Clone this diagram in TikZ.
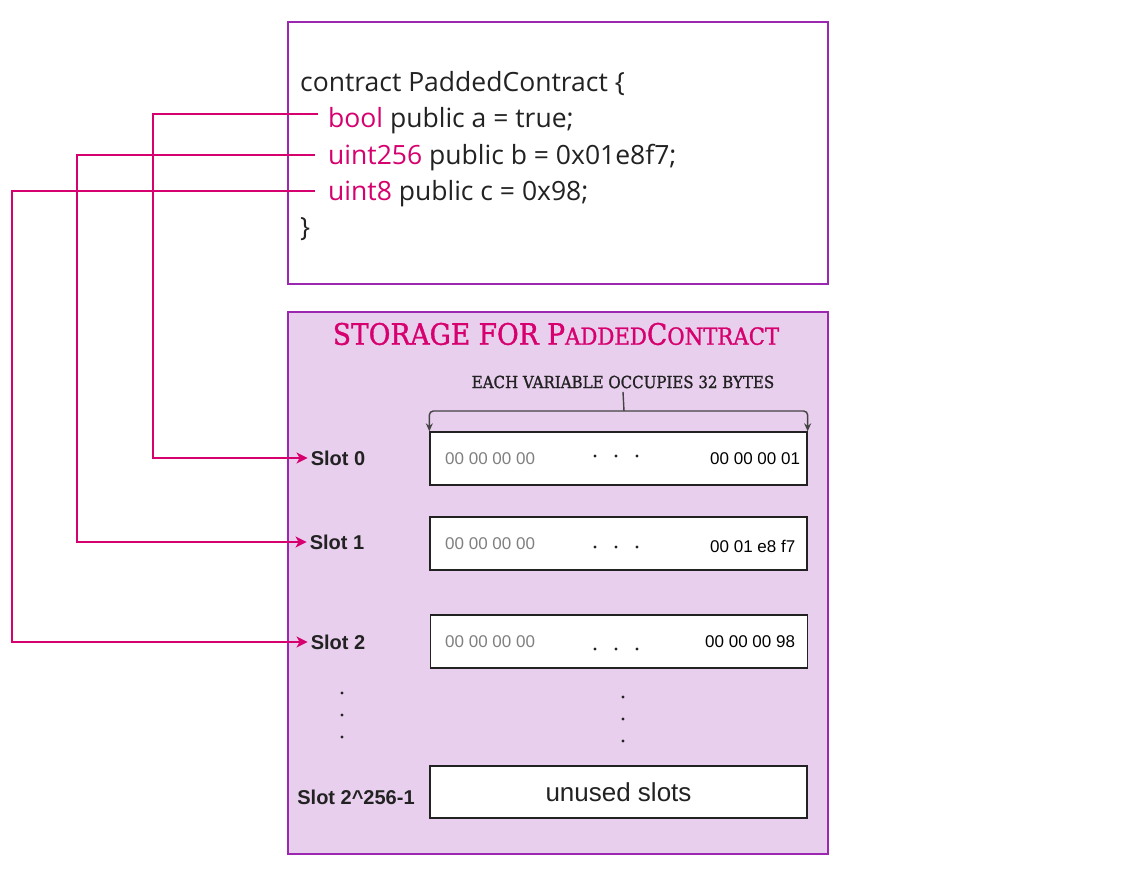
\documentclass[tikz,border=0pt]{standalone}
\usepackage{fontspec}
\usepackage{graphicx}
\usetikzlibrary{arrows.meta}
\newfontfamily\codefont{Open Sans}
\newfontfamily\slotfont{Liberation Sans}
\newfontfamily\slabfont[FakeBold=1.2]{DejaVu Serif Condensed}
\newcommand\lowcap[1]{\scalebox{0.8}{#1}}
\definecolor{accent}{RGB}{214,0,110}
\definecolor{frame}{RGB}{156,39,176}
\definecolor{store}{RGB}{233,207,238}
\definecolor{ink}{RGB}{34,34,34}
\begin{document}
\begin{tikzpicture}[x=1pt, y=-1pt,
		codeline/.style={anchor=base west, inner sep=0pt, text=ink, font=\codefont\fontsize{26.5}{30}\selectfont},
		panel/.style={draw=frame, line width=2.5pt, minimum width=540pt},
		slotlabel/.style={inner sep=3pt, text=ink, font=\slotfont\bfseries\fontsize{20}{23}\selectfont},
		slotbox/.style={draw=ink, fill=white, line width=1.3pt, minimum width=377pt, minimum height=53pt, inner sep=0pt},
		hexlo/.style={anchor=west, inner sep=0pt, text=gray, font=\slotfont\fontsize{17}{20}\selectfont},
		hexhi/.style={anchor=west, inner sep=0pt, text=black, font=\slotfont\fontsize{17}{20}\selectfont},
		brace/.style={draw=ink!85, line width=1.4pt, rounded corners=4pt},
		link/.style={draw=accent, line width=2.8pt, -{Stealth[length=11pt,width=11pt,inset=3pt]}}]

	\useasboundingbox[fill=white] (0,0) rectangle (1143,874);

	% contract source
	\node[panel, fill=white, minimum height=262pt] (code) at (558,153) {};
	\node[codeline] (head) at (300,92) {contract PaddedContract \{};
	\node[codeline] (va) at (328,128) {\textcolor{accent}{bool} public a = true;};
	\node[codeline] (vb) at (328,165) {\textcolor{accent}{uint256} public b = 0x01e8f7;};
	\node[codeline] (vc) at (328,201) {\textcolor{accent}{uint8} public c = 0x98;};
	\node[codeline] (tail) at (300,237) {\}};

	% storage layout
	\node[panel, fill=store, minimum height=542pt] (store) at (558,583) {};
	\node[text=accent, font=\slabfont\fontsize{29.5}{33}\selectfont] (title) at (556,334) {STORAGE FOR P\lowcap{ADDED}C\lowcap{ONTRACT}};
	\node[text=ink, font=\slabfont\fontsize{16.7}{19}\selectfont] (sub) at (623,382) {EACH VARIABLE OCCUPIES 32 BYTES};

	\node[slotbox] (b0) at (618.5,458.5) {};
	\node[slotbox] (b1) at (618.5,543.5) {};
	\node[slotbox] (b2) at (619,641.5) {};
	\node[slotbox, minimum height=52pt] (bn) at (618.5,792) {};

	\node[slotlabel] (s0) at (338,458) {Slot 0};
	\node[slotlabel] (s1) at (337,542) {Slot 1};
	\node[slotlabel] (s2) at (338,642) {Slot 2};
	\node[slotlabel] (sn) at (356,797) {Slot 2\^{}256-1};

	\node[hexlo] (lo0) at (445,459) {00 00 00 00};
	\node[hexlo] (lo1) at (445,544) {00 00 00 00};
	\node[hexlo] (lo2) at (445,642) {00 00 00 00};
	\node[hexhi] (hi0) at (710,459) {00 00 00 01};
	\node[hexhi] (hi1) at (710,546) {00 01 e8 f7};
	\node[hexhi] (hi2) at (705,642) {00 00 00 98};
	\node[text=ink, font=\slotfont\fontsize{26}{29}\selectfont] (unused) at (bn) {unused slots};

	\foreach \y in {456,547,649}
		\foreach \x in {595,616,637}
			\fill[ink] (\x,\y) circle (1.7pt);
	\foreach \y in {693,715,737} \fill[ink] (342,\y) circle (1.6pt);
	\foreach \y in {697,719,741} \fill[ink] (623,\y) circle (1.6pt);

	% 32 byte brace
	\coordinate (brc) at (624,411);
	\draw[brace] (sub.south) -- (brc);
	\draw[brace, -{Stealth[length=8pt,width=7pt]}] (brc) -| (b0.north west);
	\draw[brace, -{Stealth[length=8pt,width=7pt]}] (brc) -| (b0.north east);

	% variables to slots
	\draw[link] ([xshift=-10pt,yshift=14pt]va.base west) -- +(-165,0) |- (s0.west);
	\draw[link] ([xshift=-13pt,yshift=10pt]vb.base west) -- +(-238,0) |- (s1.west);
	\draw[link] ([xshift=-13pt,yshift=10pt]vc.base west) -- +(-303,0) |- (s2.west);
\end{tikzpicture}
\end{document}
